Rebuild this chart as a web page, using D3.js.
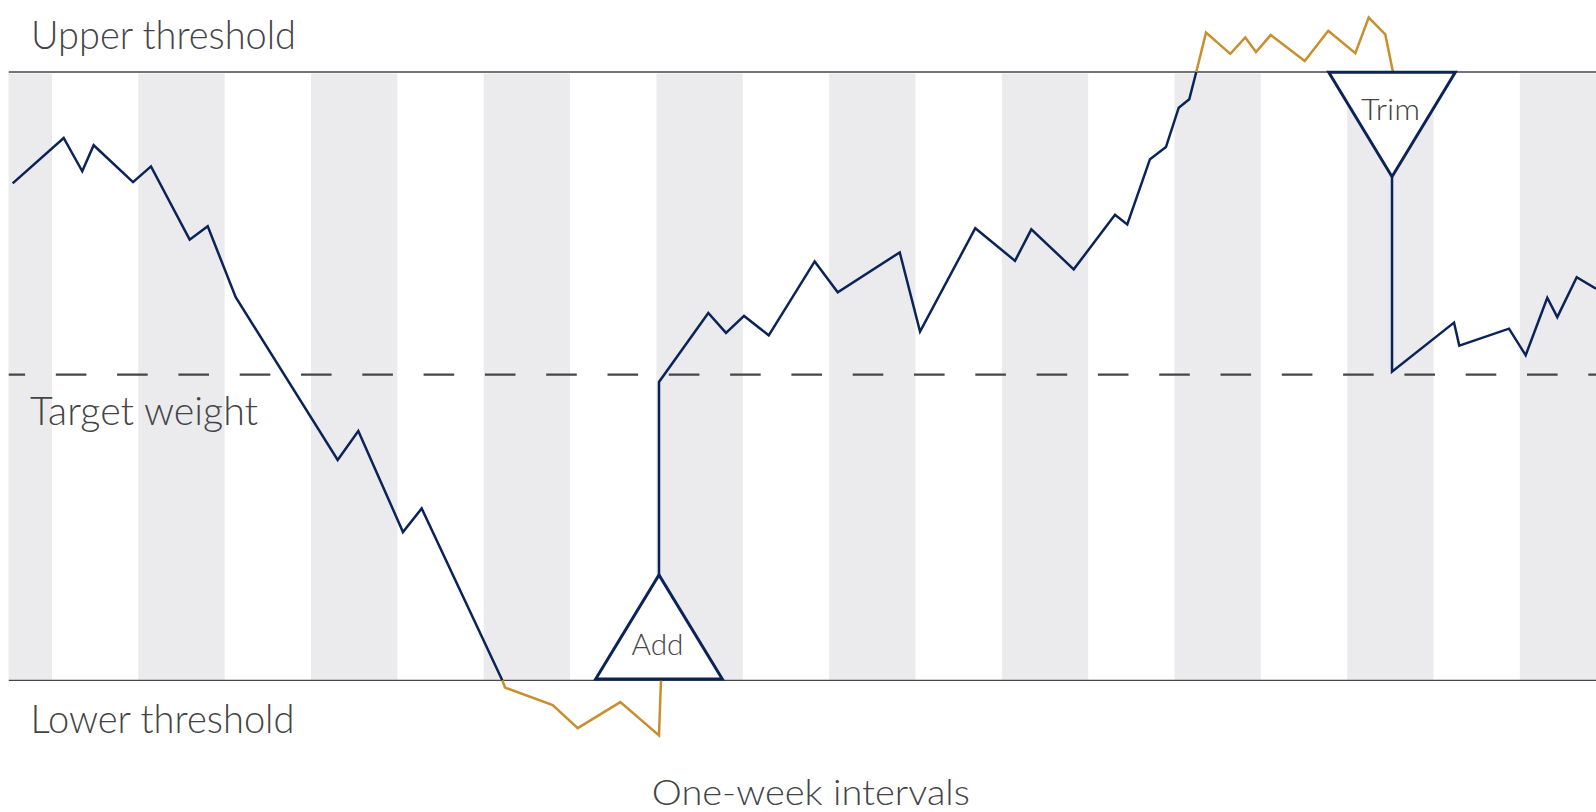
<!DOCTYPE html>
<html>
<head>
<meta charset="utf-8">
<script src="https://cdn.jsdelivr.net/npm/d3@7"></script>
<style>
  html, body { margin: 0; padding: 0; background: #ffffff; }
  svg { display: block; }
  text { font-family: Lato, "Open Sans", sans-serif; font-weight: 300; fill: #444446; }
</style>
</head>
<body>
<svg id="chart" width="1596" height="812"></svg>
<script>
// ---- data (x in weeks, y in percentage points from target weight) ----
const upperThreshold = 5;
const lowerThreshold = -5.05;
const targetWeight = 0;
const weekCount = 19;
const shadedWeeks = [0, 2, 4, 6, 8, 10, 12, 14, 16, 18];

const driftDown = [
  [0.545, 3.16], [1.136, 3.91], [1.351, 3.36], [1.483, 3.79], [1.939, 3.18],
  [2.147, 3.44], [2.595, 2.23], [2.804, 2.45], [3.128, 1.28], [4.309, -1.41],
  [4.548, -0.93], [5.065, -2.60], [5.282, -2.21], [6.215, -5.05]
];
const belowLower = [
  [6.215, -5.05], [6.247, -5.17], [6.799, -5.46], [7.089, -5.84], [7.582, -5.41],
  [8.030, -5.96], [8.053, -5.05]
];
const afterAdd = [
  [8.030, -3.31], [8.030, -0.12], [8.601, 1.02], [8.806, 0.69], [9.015, 0.97],
  [9.301, 0.65], [9.833, 1.87], [10.100, 1.36], [10.818, 2.02], [11.053, 0.71],
  [11.693, 2.42], [12.153, 1.88], [12.342, 2.40], [12.833, 1.74], [13.311, 2.64],
  [13.453, 2.48], [13.716, 3.56], [13.901, 3.76], [14.049, 4.41], [14.171, 4.55],
  [14.252, 5.00]
];
const aboveUpper = [
  [14.252, 5.00], [14.365, 5.65], [14.646, 5.30], [14.820, 5.57], [14.944, 5.33],
  [15.114, 5.61], [15.508, 5.18], [15.781, 5.68], [16.094, 5.31], [16.249, 5.90],
  [16.441, 5.62], [16.530, 5.00]
];
const afterTrim = [
  [16.519, 3.27], [16.519, 0.05], [17.237, 0.86], [17.298, 0.48], [17.874, 0.76],
  [18.067, 0.32], [18.317, 1.27], [18.433, 0.95], [18.658, 1.61], [18.881, 1.42]
];
// rebalancing markers: [week, apex value, label]
const addMarker = [8.030, -3.31, "Add"];
const trimMarker = [16.519, 3.27, "Trim"];

const labels = {
  upper: "Upper threshold",
  target: "Target weight",
  lower: "Lower threshold",
  axis: "One-week intervals"
};

// ---- drawing ----
const W = 1596, H = 812;
const left = 8.5, right = 1596;
const navy = "#0b2458", gold = "#c98e2e", band = "#ebebed", rule = "#464648";

const svg = d3.select("#chart");

const x = d3.scaleLinear().domain([0, weekCount]).range([-34.4, -34.4 + weekCount * 86.35]);
const y = d3.scaleLinear().domain([lowerThreshold, upperThreshold]).range([680.3, 72]);

svg.append("defs").append("clipPath").attr("id", "plotClip")
  .append("rect").attr("x", left).attr("y", 0).attr("width", right - left).attr("height", H);

const plot = svg.append("g").attr("clip-path", "url(#plotClip)");

// week shading
plot.selectAll("rect.band").data(shadedWeeks).join("rect")
  .attr("class", "band")
  .attr("x", d => x(d))
  .attr("width", d => x(d + 1) - x(d))
  .attr("y", y(upperThreshold) + 1.5)
  .attr("height", y(lowerThreshold) - y(upperThreshold) - 2)
  .attr("fill", band);

// thresholds
plot.append("line")
  .attr("x1", left).attr("x2", right)
  .attr("y1", y(upperThreshold)).attr("y2", y(upperThreshold))
  .attr("stroke", rule).attr("stroke-width", 1.3);
plot.append("line")
  .attr("x1", left).attr("x2", right)
  .attr("y1", y(lowerThreshold)).attr("y2", y(lowerThreshold))
  .attr("stroke", rule).attr("stroke-width", 1.3);

// target dashed
plot.append("line")
  .attr("x1", left).attr("x2", right)
  .attr("y1", y(targetWeight)).attr("y2", y(targetWeight))
  .attr("stroke", "#464648").attr("stroke-width", 2.2)
  .attr("stroke-dasharray", "30.6 30.7")
  .attr("stroke-dashoffset", 14);

const line = d3.line().x(d => x(d[0])).y(d => y(d[1]));

[[driftDown, navy], [belowLower, gold], [afterAdd, navy], [aboveUpper, gold], [afterTrim, navy]]
  .forEach(([pts, col]) => {
    plot.append("path").datum(pts)
      .attr("d", line)
      .attr("fill", "none")
      .attr("stroke", col)
      .attr("stroke-width", 2.5)
      .attr("stroke-linejoin", "miter");
  });

// markers
const halfBase = 63.3;
function marker(m, baseValue, baseOffset, textBaseline, textLen) {
  const cx = x(m[0]);
  const apexY = y(m[1]);
  const baseY = y(baseValue) + baseOffset;
  plot.append("path")
    .attr("d", `M${cx - halfBase},${baseY}L${cx + halfBase},${baseY}L${cx},${apexY}Z`)
    .attr("fill", "#ffffff")
    .attr("stroke", navy)
    .attr("stroke-width", 3)
    .attr("stroke-linejoin", "miter");
  svg.append("text")
    .attr("x", cx - 1.5)
    .attr("y", textBaseline)
    .attr("text-anchor", "middle")
    .attr("font-size", 29)
    .attr("textLength", textLen)
    .attr("lengthAdjust", "spacingAndGlyphs")
    .text(m[2]);
}
marker(addMarker, lowerThreshold, -1.3, 655, 52);
marker(trimMarker, upperThreshold, 0.3, 120, 59);

// labels
function label(txt, xPos, base, size, len, anchor) {
  svg.append("text")
    .attr("x", xPos).attr("y", base)
    .attr("font-size", size)
    .attr("text-anchor", anchor || "start")
    .attr("textLength", len)
    .attr("lengthAdjust", "spacingAndGlyphs")
    .text(txt);
}
label(labels.upper, 31, 49, 39, 265);
label(labels.target, 30, 425, 39, 228);
label(labels.lower, 30.5, 732.7, 39, 264);
label(labels.axis, 810.8, 805, 36, 318, "middle");
</script>
</body>
</html>
